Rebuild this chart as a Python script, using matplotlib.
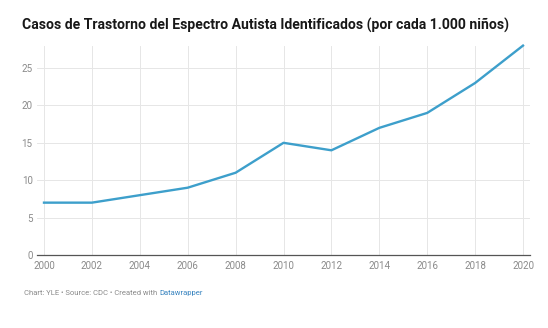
import matplotlib
matplotlib.use("Agg")
import matplotlib.pyplot as plt

years = [2000, 2002, 2004, 2006, 2008, 2010, 2012, 2014, 2016, 2018, 2020]
cases = [7, 7, 8, 9, 11, 15, 14, 17, 19, 23, 28]
y_ticks = [0, 5, 10, 15, 20, 25]

plt.rcParams["font.family"] = ["Roboto", "DejaVu Sans"]

fig = plt.figure(figsize=(5.48, 3.28), dpi=100)
# 2000 sits at x=44 px and 2020 at x=523 px, with a little room either side
x0, x1 = 1999.7, 2020.3
px_per_year = (523 - 44) / 20
left = 44 - (2000 - x0) * px_per_year
right = 523 + (x1 - 2020) * px_per_year
ax = fig.add_axes([left / 548, 73 / 328, (right - left) / 548, (255 - 45.6) / 328])

ax.plot(years, cases, color="#3d9fcb", linewidth=1.7, solid_joinstyle="round", zorder=5, clip_on=False)

ax.set_xlim(x0, x1)
ax.set_ylim(0, 28)
ax.set_xticks(years)
ax.set_yticks(y_ticks)
ax.tick_params(axis="both", length=0, labelsize=7, labelcolor="#8a8a8a")
ax.tick_params(axis="x", pad=4)
ax.tick_params(axis="y", pad=3)
ax.grid(True, color="#e6e6e6", linewidth=0.7)
for s in ["top", "right", "left"]:
    ax.spines[s].set_visible(False)
ax.spines["bottom"].set_color("#555555")
ax.spines["bottom"].set_linewidth(0.9)
ax.set_axisbelow(True)

fig.text(22 / 548, 1 - 25 / 328, "Casos de Trastorno del Espectro Autista Identificados (por cada 1.000 niños)",
         fontsize=10.1, fontweight="bold", color="#181818", va="center", ha="left")

t = fig.text(24 / 548, 1 - 293 / 328, "Chart: YLE • Source: CDC • Created with ",
             fontsize=5.5, color="#8a8a8a", va="center", ha="left")
fig.canvas.draw()
bb = t.get_window_extent()
fig.text(bb.x1 / 548, 1 - 293 / 328, "Datawrapper", fontsize=5.5, color="#3a85c0", va="center", ha="left")

fig.savefig("out.png", dpi=100)
